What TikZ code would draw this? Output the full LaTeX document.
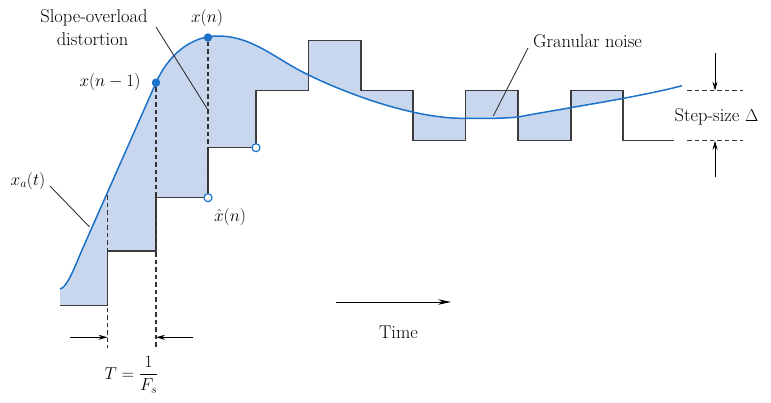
\documentclass[tikz,border=0pt]{standalone}
\usepackage{fontspec}
\usetikzlibrary{arrows.meta}
\definecolor{fillblue}{RGB}{200,214,238}
\definecolor{curveblue}{RGB}{28,114,200}
\definecolor{stairgray}{RGB}{60,60,60}
\definecolor{dashgray}{RGB}{50,50,50}
\newcommand{\curvepath}{(60,289) .. controls (67,288.5) and (77,261.5) .. (82,250) -- (156,82.7) .. controls (168,55.7) and (190,36) .. (218,36) .. controls (245,36) and (265,50) .. (290,65) .. controls (320,83) and (400,117) .. (460,118.3) .. controls (485,118.6) and (505,118.5) .. (518,117) .. controls (560,109) and (640,97) .. (682,85.7)}
\begin{document}
\begin{tikzpicture}[x=1pt,y=-1pt,
  lbl/.style={font=\fontsize{18.5}{22}\selectfont, inner sep=0pt},
  stair/.style={draw=stairgray, line width=1.3pt},
  curvestyle/.style={draw=curveblue, line width=1.5pt},
  dashln/.style={draw=dashgray, line width=1.1pt, dash pattern=on 4.5pt off 3pt},
  leader/.style={draw=black!80, line width=0.9pt},
  fulldot/.style={circle, fill=curveblue, inner sep=0pt, minimum size=8.5pt},
  opendot/.style={circle, draw=curveblue, fill=white, line width=1.2pt, inner sep=0pt, minimum size=8pt},
  smallarrow/.style={draw=black, line width=0.9pt, -{Stealth[length=9pt,width=5pt]}},
  bigarrow/.style={draw=black, line width=1pt, -{Stealth[length=13pt,width=5.5pt]}}
]
\useasboundingbox (0,0) rectangle (771,402);
% fill between curve and staircase
\begin{scope}
\clip (60,0) rectangle (623,402);
\fill[fillblue] \curvepath
  -- (682,90.7) -- (571,90.7) -- (571,140.7) -- (518,140.7) -- (518,90.7)
  -- (465.7,90.7) -- (465.7,140.7) -- (413,140.7) -- (413,90.7) -- (361,90.7)
  -- (361,40.7) -- (308.5,40.7) -- (308.5,90.7) -- (256,90.7) -- (256,147.7)
  -- (208,147.7) -- (208,197.7) -- (156,197.7) -- (156,251) -- (107.5,251)
  -- (107.5,305.5) -- (60,305.5) -- cycle;
\end{scope}
% dashed sample lines
\coordinate (s1top) at (107.5,195);
\coordinate (s1bot) at (107.5,348);
\coordinate (s2bot) at (156,348);
\draw[dashln] (s1top) -- (s1bot);
% staircase
\draw[stair] (60,305.5) -- (107.5,305.5) -- (107.5,251) -- (156,251) -- (156,197.7) -- (208,197.7);
\draw[stair] (208,197.7) -- (208,147.7) -- (256,147.7);
\draw[stair] (256,147.7) -- (256,90.7) -- (308.5,90.7) -- (308.5,40.7) -- (361,40.7) -- (361,90.7)
  -- (413,90.7) -- (413,140.7) -- (465.7,140.7) -- (465.7,90.7) -- (518,90.7) -- (518,140.7)
  -- (571,140.7) -- (571,90.7) -- (623,90.7) -- (623,140.7) -- (674,140.7);
% curve
\draw[curvestyle] \curvepath;
% dots
\node[fulldot] (xn1) at (156,82.7) {};
\node[fulldot] (xn) at (208,37.5) {};
\node[opendot] (xh) at (208,197.7) {};
\node[opendot] (xh2) at (256,147.7) {};
\draw[dashln] (xn1) -- (s2bot);
\draw[dashln] (xn) -- (xh);
% labels
\node[lbl, anchor=base] (slope1) at (94,22) {Slope-overload};
\node[lbl, anchor=base] (slope2) at (92.5,45.5) {distortion};
\node[lbl, anchor=base] (lxn) at (207,22) {$x(n)$};
\node[lbl, anchor=base] (lxn1) at (110,86) {$x(n-1)$};
\node[lbl, anchor=base] (lxa) at (28,185) {$x_a(t)$};
\node[lbl, anchor=base] (lxh) at (230,221.5) {$\hat{x}(n)$};
\node[lbl, anchor=base] (lgran) at (587.5,47) {Granular noise};
\node[lbl, anchor=base] (lstep) at (716.5,121.5) {Step-size $\Delta$};
\node[lbl, anchor=base] (ltime) at (398.5,338) {Time};
\node[lbl, anchor=base] (lT) at (131.5,379) {$\displaystyle T=\frac{1}{F_s}$};
% leaders
\coordinate (ls1) at (156,27);
\coordinate (ls2) at (208,110);
\draw[leader] (ls1) -- (ls2);
\coordinate (la1) at (50,186);
\coordinate (la2) at (89.3,226.7);
\draw[leader] (la1) -- (la2);
\coordinate (lg1) at (528,48);
\coordinate (lg2) at (493.3,116);
\draw[leader] (lg1) -- (lg2);
% step-size marks
\coordinate (d1a) at (687,90.7);
\coordinate (d1b) at (743,90.7);
\coordinate (d2a) at (687,140.7);
\coordinate (d2b) at (743,140.7);
\draw[dashln] (d1a) -- (d1b);
\draw[dashln] (d2a) -- (d2b);
\coordinate (ua) at (715,53);
\coordinate (ub) at (715,90.7);
\coordinate (va) at (715,177);
\coordinate (vb) at (715,140.7);
\draw[smallarrow] (ua) -- (ub);
\draw[smallarrow] (va) -- (vb);
% period arrows
\coordinate (ta) at (70,337.3);
\coordinate (tb) at (107.5,337.3);
\coordinate (tc) at (193,337.3);
\coordinate (td) at (156,337.3);
\draw[smallarrow] (ta) -- (tb);
\draw[smallarrow] (tc) -- (td);
% time arrow
\coordinate (tm1) at (336,302);
\coordinate (tm2) at (451,302);
\draw[bigarrow] (tm1) -- (tm2);
\end{tikzpicture}
\end{document}
